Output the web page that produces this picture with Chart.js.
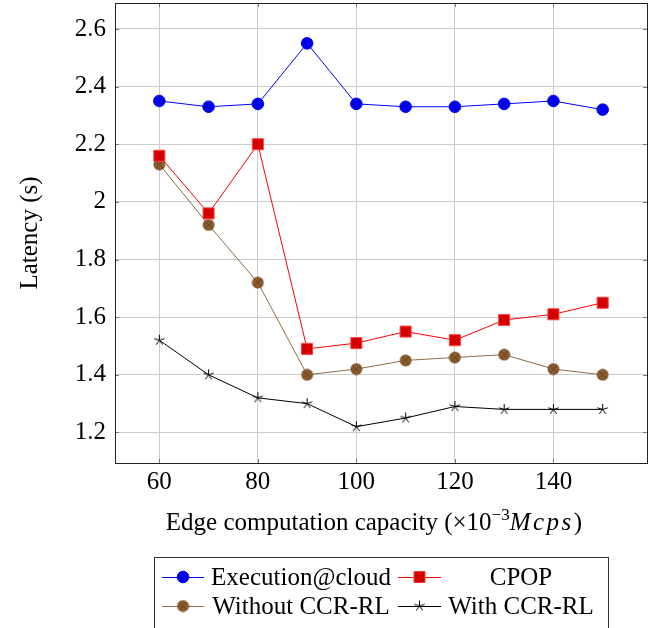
<!DOCTYPE html>
<html>
<head>
<meta charset="utf-8">
<script src="https://cdn.jsdelivr.net/npm/chart.js@4.4.1/dist/chart.umd.min.js"></script>
<style>
  body { margin: 0; background: #fff; }
  canvas { display: block; }
</style>
</head>
<body>
<canvas id="latencyChart" width="658" height="628"></canvas>
<script>
// Data
const capacities = [60, 70, 80, 90, 100, 110, 120, 130, 140, 150];
const cloudLatency = [2.35, 2.33, 2.34, 2.55, 2.34, 2.33, 2.33, 2.34, 2.35, 2.32];
const cpopLatency = [2.16, 1.96, 2.20, 1.49, 1.51, 1.55, 1.52, 1.59, 1.61, 1.65];
const withoutLatency = [2.13, 1.92, 1.72, 1.40, 1.42, 1.45, 1.46, 1.47, 1.42, 1.40];
const withLatency = [1.52, 1.40, 1.32, 1.30, 1.22, 1.25, 1.29, 1.28, 1.28, 1.28];
const seriesNames = ['Execution@cloud', 'CPOP', 'Without CCR-RL', 'With CCR-RL'];
const xTicks = [60, 80, 100, 120, 140];
const yTicks = [1.2, 1.4, 1.6, 1.8, 2.0, 2.2, 2.4, 2.6];
const xRange = [51, 159];
const yRange = [1.094, 2.690];

const SERIF = "'Liberation Serif', 'DejaVu Serif', serif";
const FS = 25;
Chart.defaults.font.family = SERIF;
Chart.defaults.color = '#000';

function toPoints(values) {
    return values.map(function(v, i) { return { x: capacities[i], y: v }; });
}

// circle with a cross (pgfplots otimes*)
function makeOtimes() {
    const c = document.createElement('canvas');
    c.width = 13; c.height = 13;
    const g = c.getContext('2d');
    g.beginPath();
    g.arc(6.5, 6.5, 5.5, 0, Math.PI * 2);
    g.fillStyle = '#8c5a2b';
    g.fill();
    g.lineWidth = 0.8;
    g.strokeStyle = '#6b4420';
    g.stroke();
    const d = 5.5 * Math.SQRT1_2;
    g.beginPath();
    g.moveTo(6.5 - d, 6.5 - d); g.lineTo(6.5 + d, 6.5 + d);
    g.moveTo(6.5 + d, 6.5 - d); g.lineTo(6.5 - d, 6.5 + d);
    g.strokeStyle = '#5a3a18';
    g.lineWidth = 0.7;
    g.stroke();
    return c;
}

// five armed star
function makeStar() {
    const c = document.createElement('canvas');
    c.width = 13; c.height = 13;
    const g = c.getContext('2d');
    g.beginPath();
    for (let k = 0; k < 5; k++) {
        const a = -Math.PI / 2 + k * 2 * Math.PI / 5;
        g.moveTo(6.5, 6.5);
        g.lineTo(6.5 + 5.5 * Math.cos(a), 6.5 + 5.5 * Math.sin(a));
    }
    g.strokeStyle = '#000';
    g.lineWidth = 1;
    g.stroke();
    return c;
}

const otimes = makeOtimes();
const star = makeStar();

const datasets = [
    {
        label: seriesNames[0], data: toPoints(cloudLatency),
        borderColor: '#0000ff', backgroundColor: '#0000e6', borderWidth: 1,
        pointStyle: 'circle', pointRadius: 5.8, pointBorderColor: '#0000ff', pointBorderWidth: 1
    },
    {
        label: seriesNames[1], data: toPoints(cpopLatency),
        borderColor: '#ff0000', backgroundColor: '#d40000', borderWidth: 1,
        pointStyle: 'rect', pointRadius: 7.8, pointBorderColor: '#ff4040', pointBorderWidth: 1
    },
    {
        label: seriesNames[2], data: toPoints(withoutLatency),
        borderColor: '#8f6a45', backgroundColor: '#8c5a2b', borderWidth: 1,
        pointStyle: otimes, pointRadius: 6
    },
    {
        label: seriesNames[3], data: toPoints(withLatency),
        borderColor: '#000000', backgroundColor: '#000000', borderWidth: 1,
        pointStyle: star, pointRadius: 6
    }
];

// frame, inner ticks, x title with superscript and legend box
const decorPlugin = {
    id: 'decor',
    afterDraw: function(chart) {
        const ctx = chart.ctx;
        const a = chart.chartArea;
        const xs = chart.scales.x, ys = chart.scales.y;
        ctx.save();

        // inner ticks on all four sides
        ctx.strokeStyle = '#7a7a7a';
        ctx.lineWidth = 1;
        ctx.beginPath();
        xTicks.forEach(function(v) {
            const px = Math.round(xs.getPixelForValue(v)) + 0.5;
            ctx.moveTo(px, a.bottom); ctx.lineTo(px, a.bottom - 4);
            ctx.moveTo(px, a.top); ctx.lineTo(px, a.top + 4);
        });
        yTicks.forEach(function(v) {
            const py = Math.round(ys.getPixelForValue(v)) + 0.5;
            ctx.moveTo(a.left, py); ctx.lineTo(a.left + 4, py);
            ctx.moveTo(a.right, py); ctx.lineTo(a.right - 4, py);
        });
        ctx.stroke();

        // frame
        ctx.strokeStyle = '#222';
        ctx.strokeRect(Math.round(a.left) + 0.5, Math.round(a.top) + 0.5,
            Math.round(a.right - a.left), Math.round(a.bottom - a.top));

        // x title
        const big = FS + 'px ' + SERIF;
        const parts = [
            { t: 'Edge computation capacity (\u00d710', f: big, dy: 0, sp: 0 },
            { t: '\u22123', f: '17px ' + SERIF, dy: -10, sp: 0 },
            { t: 'Mcps', f: 'italic ' + FS + 'px ' + SERIF, dy: 0, sp: 2.5 },
            { t: ')', f: big, dy: 0, sp: 0 }
        ];
        let total = 0;
        parts.forEach(function(p) {
            ctx.font = p.f;
            p.w = ctx.measureText(p.t).width + p.sp * p.t.length;
            total += p.w;
        });
        let tx = 374 - total / 2;
        const baseY = 530;
        ctx.fillStyle = '#000';
        ctx.textBaseline = 'alphabetic';
        ctx.textAlign = 'left';
        parts.forEach(function(p) {
            ctx.font = p.f;
            if (p.sp) {
                let cx = tx;
                for (const ch of p.t) {
                    ctx.fillText(ch, cx, baseY + p.dy);
                    cx += ctx.measureText(ch).width + p.sp;
                }
            } else {
                ctx.fillText(p.t, tx, baseY + p.dy);
            }
            tx += p.w;
        });

        // legend box
        ctx.strokeStyle = '#333';
        ctx.strokeRect(154.5, 557.5, 454, 90);
        const rows = [577, 606];
        const lineCols = [[162, 204], [398, 441]];
        const textCenters = [301, 521];
        ctx.font = big;
        ctx.textBaseline = 'middle';
        ctx.textAlign = 'center';
        chart.data.datasets.forEach(function(ds, i) {
            const r = rows[Math.floor(i / 2)];
            const c = i % 2;
            const [x0, x1] = lineCols[c];
            ctx.strokeStyle = ds.borderColor;
            ctx.lineWidth = 1;
            ctx.beginPath();
            ctx.moveTo(x0, r + 0.5); ctx.lineTo(x1, r + 0.5);
            ctx.stroke();
            ctx.fillStyle = ds.backgroundColor;
            ctx.strokeStyle = ds.pointBorderColor || ds.borderColor;
            ctx.lineWidth = ds.pointBorderWidth || 1;
            Chart.helpers.drawPoint(ctx, {
                pointStyle: ds.pointStyle, radius: ds.pointRadius, rotation: 0,
                borderWidth: ds.pointBorderWidth || 1
            }, (x0 + x1) / 2, r);
            ctx.fillStyle = '#000';
            ctx.fillText(ds.label, textCenters[c], r + 1);
        });
        ctx.restore();
    }
};

function noPad(s) {
    s.paddingTop = 0; s.paddingBottom = 0; s.paddingLeft = 0; s.paddingRight = 0;
}

const ctx = document.getElementById('latencyChart').getContext('2d');
const latencyChart = new Chart(ctx, {
    type: 'line',
    data: { datasets: datasets },
    options: {
        responsive: false,
        animation: false,
        layout: { autoPadding: false, padding: { left: 0, right: 11, top: 3, bottom: 0 } },
        plugins: { legend: { display: false }, tooltip: { enabled: false } },
        elements: { line: { tension: 0 } },
        scales: {
            x: {
                type: 'linear', min: xRange[0], max: xRange[1],
                afterBuildTicks: function(s) { s.ticks = xTicks.map(function(v) { return { value: v }; }); },
                afterFit: function(s) { s.height = 165; noPad(s); },
                grid: { color: '#cccccc', lineWidth: 1, drawTicks: false },
                border: { display: false },
                ticks: { padding: 4, font: { size: FS }, maxRotation: 0,
                    callback: function(v) { return String(v); } }
            },
            y: {
                type: 'linear', min: yRange[0], max: yRange[1],
                afterBuildTicks: function(s) { s.ticks = yTicks.map(function(v) { return { value: v }; }); },
                afterFit: function(s) { s.width = 115; noPad(s); },
                grid: { color: '#cccccc', lineWidth: 1, drawTicks: false },
                border: { display: false },
                ticks: { padding: 9, font: { size: FS },
                    callback: function(v) { return String(Math.round(v * 10) / 10); } },
                title: { display: true, text: 'Latency (s)', font: { size: FS },
                    padding: { top: 15, bottom: 0 } }
            }
        }
    },
    plugins: [decorPlugin]
});
</script>
</body>
</html>
